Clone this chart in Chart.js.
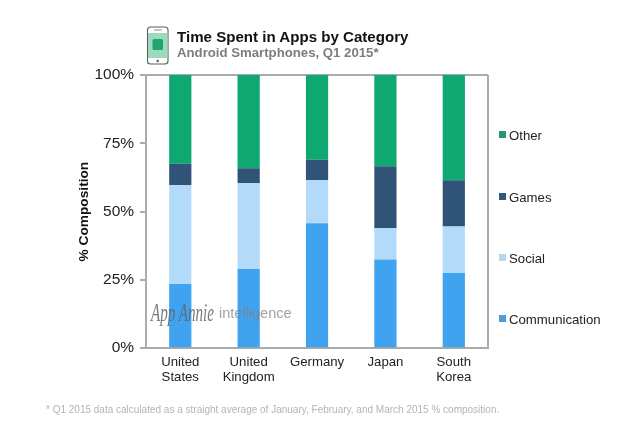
<!DOCTYPE html>
<html><head><meta charset="utf-8">
<script src="https://cdn.jsdelivr.net/npm/chart.js@4"></script>
<style>
html,body{margin:0;padding:0;background:#fff;width:640px;height:425px;overflow:hidden;font-family:"Liberation Sans",Arial,sans-serif}
#wrap{position:relative;width:640px;height:425px}
canvas{position:absolute;left:0;top:0}
.t{position:absolute;white-space:nowrap}
#title{left:177px;top:28px;font-size:15.1px;font-weight:bold;color:#111}
#sub{left:177px;top:45px;font-size:13.2px;font-weight:bold;color:#7d7d7d}
#foot{left:46px;top:404px;font-size:10px;color:#b4b4b4}
#wm1{left:151px;top:298px;font-family:"Liberation Serif",serif;font-style:italic;font-size:26px;color:rgba(95,100,105,.85);transform:scaleX(.58);transform-origin:left top}
#wm2{left:219px;top:305px;font-size:14.5px;color:rgba(125,130,130,.75)}
.sw{position:absolute;width:7px;height:7px}
.lg{position:absolute;font-size:13.2px;color:#222;white-space:nowrap}
#phone{position:absolute;left:146px;top:26px}
</style></head>
<body><div id="wrap">
<canvas id="c" width="640" height="425"></canvas>
<svg id="phone" width="24" height="40" viewBox="0 0 24 40">
<rect x="1.5" y="1" width="20.5" height="37" rx="3" fill="#fff" stroke="#55605f" stroke-width="1.1"/>
<rect x="2" y="7" width="19.5" height="25" fill="#9ed8bd"/>
<rect x="6.5" y="13" width="10.5" height="11" rx="1.5" fill="#1fa56f"/>
<line x1="8" y1="4" x2="15.5" y2="4" stroke="#888" stroke-width="1"/>
<circle cx="11.7" cy="35" r="1.2" fill="#55605f"/>
</svg>
<div class="t" id="title">Time Spent in Apps by Category</div>
<div class="t" id="sub">Android Smartphones, Q1 2015*</div>
<div class="t" id="wm1">App Annie</div>
<div class="t" id="wm2">intelligence</div>
<div class="t" id="foot">* Q1 2015 data calculated as a straight average of January, February, and March 2015 % composition.</div>
<div id="legend"></div>
</div>
<script>
const categories=[["United","States"],["United","Kingdom"],"Germany","Japan",["South","Korea"]];
const communication=[23.5,29,45.7,32.5,27.5];
const social=[36.2,31.5,15.8,11.5,17];
const games=[7.8,5.4,7.5,22.6,17];
const other=[32.5,34.1,31,33.4,38.5];
const yTicks=[0,25,50,75,100];
const seriesNames=["Communication","Social","Games","Other"];
const seriesColors=["#3fa3ef","#b3daf9","#2f5478","#0fa871"];
const legendColors=["#4b9cd9","#b5d8f0","#33587a","#27996f"];
const legendTops=[320,259,198,136];
const all=[communication,social,games,other];

const frame={id:'frame',afterDatasetsDraw(ch){
  const a=ch.chartArea,g=ch.ctx;
  g.save();g.strokeStyle='#ababab';g.lineWidth=2;
  g.beginPath();g.moveTo(a.right,a.top);g.lineTo(a.right,a.bottom);g.stroke();g.restore();
}};
new Chart(document.getElementById('c'),{
  type:'bar',
  data:{labels:categories,datasets:seriesNames.map((n,i)=>({label:n,data:all[i],backgroundColor:seriesColors[i],borderWidth:0,barPercentage:.325,categoryPercentage:1}))},
  options:{
    responsive:false,animation:false,
    layout:{padding:{left:76,right:152,top:75,bottom:32}},
    plugins:{legend:{display:false},tooltip:{enabled:false}},
    scales:{
      x:{stacked:true,
        afterFit(s){s.height+=9;},
        grid:{display:false},
        border:{color:'#ababab',width:2},
        ticks:{color:'#222',font:{family:'"Liberation Sans"',size:13.2,lineHeight:1.13},padding:-1,maxRotation:0,autoSkip:false}},
      y:{stacked:true,min:0,max:100,
        afterBuildTicks(ax){ax.ticks=yTicks.map(v=>({value:v}));},
        grid:{drawOnChartArea:true,tickLength:6,lineWidth:2,
          color:c=>c.tick&&c.tick.value===100?'#ababab':'rgba(0,0,0,0)',
          tickColor:'#ababab'},
        border:{color:'#ababab',width:2},
        title:{display:true,text:'% Composition',color:'#111',font:{family:'"Liberation Sans"',size:13.7,weight:'bold'},padding:{top:0,bottom:-4}},
        ticks:{color:'#222',font:{family:'"Liberation Sans"',size:15.5},padding:6,callback:v=>v+'%'}}
    }
  },
  plugins:[frame]
});
const L=document.getElementById('legend');
seriesNames.forEach((n,i)=>{
  const s=document.createElement('div');s.className='sw';s.style.cssText=`left:499px;top:${legendTops[i]-5}px;background:${legendColors[i]}`;
  const t=document.createElement('div');t.className='lg';t.style.cssText=`left:509px;top:${legendTops[i]-8}px`;t.textContent=n;
  L.append(s,t);
});
</script>
</body></html>
